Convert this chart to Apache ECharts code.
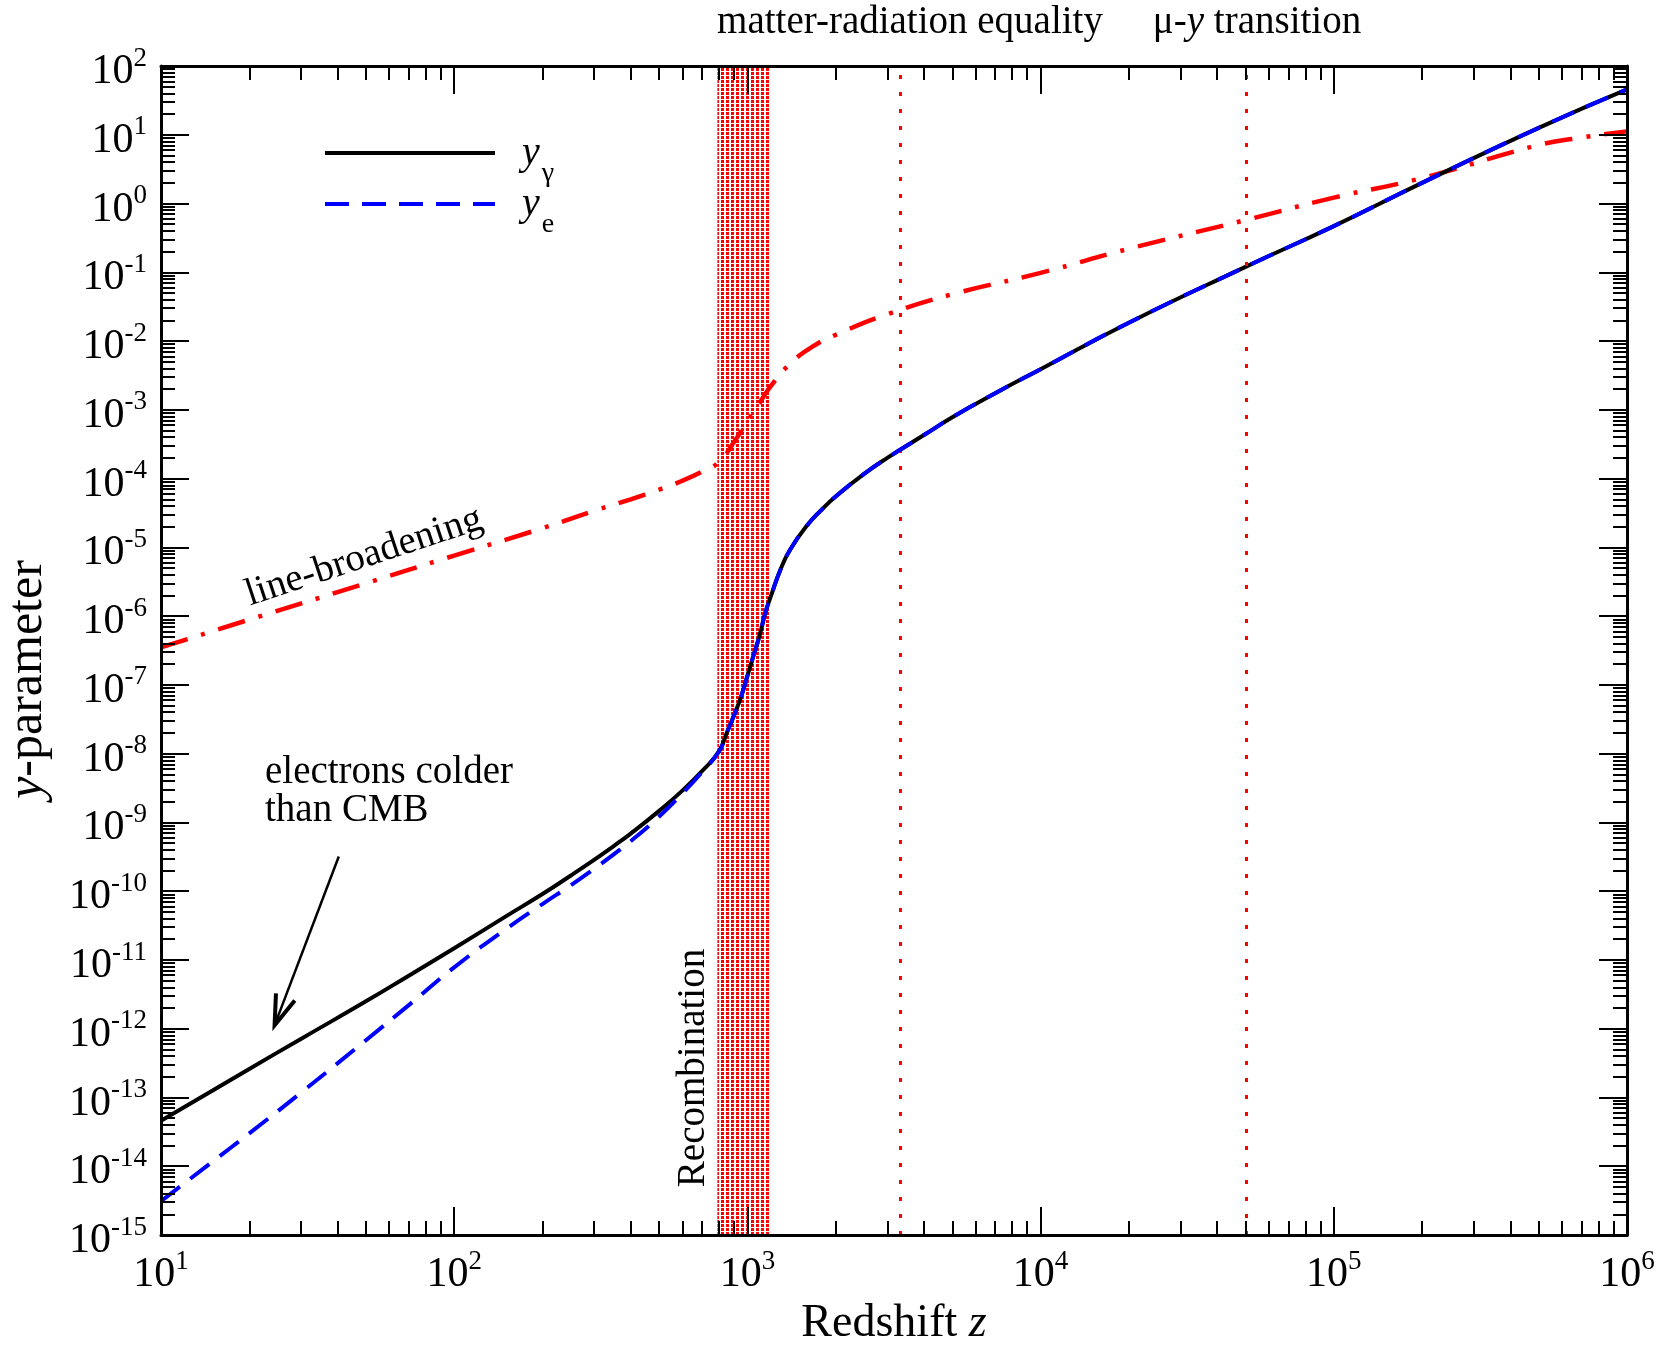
<!DOCTYPE html>
<html>
<head>
<meta charset="utf-8">
<script src="https://cdn.jsdelivr.net/npm/echarts@6.0.0/dist/echarts.min.js"></script>
<style>
  html, body { margin: 0; padding: 0; background: #fff; }
  #chart { width: 1662px; height: 1351px; }
</style>
</head>
<body>
<div id="chart"></div>
<script>
// redshift grid shared by y_gamma and y_e
const redshift = [10, 15, 20, 30, 50, 70, 100, 150, 200, 250, 300, 350, 400, 500, 600, 700, 800, 850, 900, 950,
  1000, 1050, 1100, 1150, 1200, 1300, 1400, 1600, 1800, 2000, 2500, 3000, 4000, 5000, 7000,
  1e4, 2e4, 5e4, 1e5, 2e5, 5e5, 1e6];
const yGamma = [4.6e-14, 1.26e-13, 2.6e-13, 7.1e-13, 2.5e-12, 5.9e-12, 1.48e-11, 4.3e-11, 9.1e-11, 1.69e-10, 2.85e-10,
  4.53e-10, 6.87e-10, 1.47e-9, 2.9e-9, 5.55e-9, 1.08e-8, 2.0e-8, 3.6e-8, 6.6e-8,
  1.35e-7, 2.7e-7, 5.2e-7, 1.1e-6, 1.9e-6, 4.9e-6, 9.3e-6, 2.1e-5, 3.6e-5, 5.5e-5, 1.17e-4, 2.0e-4, 4.3e-4, 7.8e-4, 1.74e-3,
  3.9e-3, 1.85e-2, 0.12, 0.47, 2.0, 12.6, 45.7];
const yElectron = [3.1e-15, 1.17e-14, 3.0e-14, 1.17e-13, 6.8e-13, 2.2e-12, 7.8e-12, 2.8e-11, 6.5e-11, 1.22e-10, 2.11e-10,
  3.44e-10, 5.33e-10, 1.22e-9, 2.65e-9, 5.4e-9, 1.08e-8, 2.0e-8, 3.6e-8, 6.6e-8,
  1.35e-7, 2.7e-7, 5.2e-7, 1.1e-6, 1.9e-6, 4.9e-6, 9.3e-6, 2.1e-5, 3.6e-5, 5.5e-5, 1.17e-4, 2.0e-4, 4.3e-4, 7.8e-4, 1.74e-3,
  3.9e-3, 1.85e-2, 0.12, 0.47, 2.0, 12.6, 45.7];

// line-broadening curve
const redshiftLB = [10, 20, 50, 100, 200, 300, 400, 500, 600, 700, 800, 900, 1000, 1100, 1200, 1400, 1700, 2000,
  3000, 5000, 1e4, 2e4, 5e4, 1e5, 2e5, 5e5, 7e5, 1e6];
const yLineBroadening = [3.5e-7, 8.9e-7, 3.0e-6, 7.6e-6, 1.9e-5, 3.4e-5, 5.0e-5, 6.9e-5, 9.3e-5, 1.26e-4, 1.74e-4,
  3.4e-4, 6.8e-4, 1.26e-3, 2.2e-3, 4.7e-3, 8.7e-3, 1.23e-2, 2.45e-2, 4.8e-2, 9.8e-2, 0.22, 0.575, 1.22, 2.35, 7.1, 9.1, 11.2];

// epochs
const recombination = [790, 1190];
const epochLines = [3300, 5e4]; // matter-radiation equality, mu-y transition

// arrow "electrons colder than CMB"
const arrowTail = [40.4, 3.2e-10];
const arrowTip = [24.4, 1.12e-12];

// axes (decade exponents)
const xRange = [1, 6];
const yRange = [-15, 2];
const tickMantissas = [2, 3, 4, 5, 6, 7, 8, 9];

const FONT = '"Liberation Serif", "Times New Roman", serif';

function toLog(xs, ys) {
  return xs.map((x, i) => [Math.log10(x), Math.log10(ys[i])]);
}

function minorTicks(range) {
  const out = [];
  for (let e = range[0]; e < range[1]; e++) {
    tickMantissas.forEach((m) => out.push(e + Math.log10(m)));
  }
  return out;
}

const labelRich = {
  b: { fontFamily: FONT, fontSize: 42, lineHeight: 42, padding: [12, 0, 0, 0], color: "#000" },
  s: { fontFamily: FONT, fontSize: 27, lineHeight: 24, verticalAlign: "top", color: "#000" },
};

function powLabel(v) {
  return "{b|10}{s|" + Math.round(v) + "}";
}

const axisLineStyle = { color: "#000", width: 3 };
const tickStyle = { color: "#000", width: 2 };

function makeAxis(pos, range, major, withLabels) {
  const ax = {
    type: "value",
    position: pos,
    min: range[0],
    max: range[1],
    interval: 1,
    z: 10,
    axisLine: { show: major, onZero: false, lineStyle: axisLineStyle },
    axisTick: { inside: true, length: major ? 28 : 14, lineStyle: tickStyle },
    axisLabel: { show: false },
    splitLine: { show: false },
  };
  if (!major) ax.axisTick.customValues = minorTicks(range);
  if (withLabels) {
    ax.axisLabel = {
      show: true,
      margin: pos === "bottom" ? 13 : 14,
      formatter: powLabel,
      rich: labelRich,
      showMinLabel: true,
      showMaxLabel: true,
    };
  }
  return ax;
}

const xMain = makeAxis("bottom", xRange, true, true);
xMain.name = "{n|Redshift }{i|z}";
xMain.nameLocation = "middle";
xMain.nameGap = 66;
xMain.nameMoveOverlap = false;
xMain.nameTextStyle = {
  rich: {
    n: { fontFamily: FONT, fontSize: 46, color: "#000" },
    i: { fontFamily: FONT, fontSize: 46, fontStyle: "italic", color: "#000" },
  },
};

const yMain = makeAxis("left", yRange, true, true);
yMain.name = "{i|y}{n|-parameter}";
yMain.nameLocation = "middle";
yMain.nameRotate = 90;
yMain.nameGap = 108;
yMain.nameMoveOverlap = false;
yMain.nameTextStyle = {
  padding: [0, 58, 0, 0],
  rich: {
    n: { fontFamily: FONT, fontSize: 50, color: "#000" },
    i: { fontFamily: FONT, fontSize: 50, fontStyle: "italic", color: "#000" },
  },
};

// dotted hatch used for the recombination band
const hatch = document.createElement("canvas");
hatch.width = 5;
hatch.height = 4;
const hctx = hatch.getContext("2d");
hctx.fillStyle = "#ff0000";
hctx.fillRect(1, 0, 3, 3);

const chart = echarts.init(document.getElementById("chart"), null, { renderer: "canvas" });

const annotations = [
  {
    id: "t-equality", type: "text", x: 910, y: 23, z: 20,
    style: { text: "matter-radiation equality", fontFamily: FONT, fontSize: 39, fill: "#000", align: "center", verticalAlign: "middle" },
  },
  {
    id: "t-muy", type: "text", x: 1257, y: 23, z: 20,
    style: {
      text: "{n|μ-}{i|y}{n| transition}", align: "center", verticalAlign: "middle",
      rich: {
        n: { fontFamily: FONT, fontSize: 39, fill: "#000" },
        i: { fontFamily: FONT, fontSize: 39, fontStyle: "italic", fill: "#000" },
      },
    },
  },
  {
    id: "t-recomb", type: "text", x: 694, y: 1068, rotation: Math.PI / 2, z: 20,
    style: { text: "Recombination", fontFamily: FONT, fontSize: 39, fill: "#000", align: "center", verticalAlign: "middle" },
  },
  {
    id: "t-lb", type: "text", x: 364, y: 557, rotation: 0.32, z: 20,
    style: { text: "line-broadening", fontFamily: FONT, fontSize: 39, fill: "#000", align: "center", verticalAlign: "middle" },
  },
  {
    id: "t-cold", type: "text", x: 265, y: 792, z: 20,
    style: { text: "electrons colder\nthan CMB", fontFamily: FONT, fontSize: 39, lineHeight: 38, fill: "#000", align: "left", verticalAlign: "middle" },
  },
];

const option = {
  animation: false,
  backgroundColor: "#fff",
  textStyle: { fontFamily: FONT, color: "#000" },
  grid: { left: 161, top: 66, width: 1466, height: 1169, outerBoundsMode: "none" },
  legend: {
    data: ["y_γ", "y_e"],
    orient: "vertical",
    left: 318,
    top: 128,
    itemWidth: 170,
    itemHeight: 2,
    itemGap: -4,
    selectedMode: false,
    lineStyle: { width: 4 },
    formatter: (name) => (name === "y_γ" ? "{i|y}{s|γ}" : "{i|y}{s|e}"),
    textStyle: {
      rich: {
        i: { fontFamily: FONT, fontSize: 40, lineHeight: 40, fontStyle: "italic", verticalAlign: "top", padding: [0, 0, 0, 22], color: "#000" },
        s: { fontFamily: FONT, fontSize: 28, lineHeight: 28, verticalAlign: "top", padding: [27, 0, 0, 2], color: "#000" },
      },
    },
  },
  xAxis: [xMain, makeAxis("bottom", xRange, false, false), makeAxis("top", xRange, true, false), makeAxis("top", xRange, false, false)],
  yAxis: [yMain, makeAxis("left", yRange, false, false), makeAxis("right", yRange, true, false), makeAxis("right", yRange, false, false)],
  series: [
    {
      name: "epochs",
      type: "line",
      data: [],
      silent: true,
      z: 1,
      markArea: {
        silent: true,
        itemStyle: { color: { image: hatch, repeat: "repeat" }, opacity: 1 },
        data: [[{ xAxis: Math.log10(recombination[0]) }, { xAxis: Math.log10(recombination[1]) }]],
      },
      markLine: {
        silent: true,
        symbol: ["none", "none"],
        label: { show: false },
        lineStyle: { color: "#ff0000", width: 3, type: [4, 13] },
        data: epochLines.map((z) => ({ xAxis: Math.log10(z) })),
      },
    },
    {
      name: "line-broadening",
      type: "line",
      data: toLog(redshiftLB, yLineBroadening),
      showSymbol: false,
      symbol: "none",
      smooth: 0.5,
      z: 3,
      lineStyle: { color: "#ff0000", width: 4.5, type: [28, 14, 4, 14] },
    },
    {
      name: "y_γ",
      type: "line",
      data: toLog(redshift, yGamma),
      showSymbol: false,
      symbol: "none",
      smooth: 0.5,
      z: 4,
      itemStyle: { color: "#000" },
      lineStyle: { color: "#000", width: 4 },
    },
    {
      name: "y_e",
      type: "line",
      data: toLog(redshift, yElectron),
      showSymbol: false,
      symbol: "none",
      smooth: 0.5,
      z: 5,
      itemStyle: { color: "#0000ff" },
      lineStyle: { color: "#0000ff", width: 4, type: [24, 13] },
    },
  ],
  graphic: { elements: annotations },
};

chart.setOption(option);

// arrow pointing at the gap between y_gamma and y_e
const pTail = chart.convertToPixel({ xAxisIndex: 0, yAxisIndex: 0 }, [Math.log10(arrowTail[0]), Math.log10(arrowTail[1])]);
const pTip = chart.convertToPixel({ xAxisIndex: 0, yAxisIndex: 0 }, [Math.log10(arrowTip[0]), Math.log10(arrowTip[1])]);
const ang = Math.atan2(pTail[1] - pTip[1], pTail[0] - pTip[0]);
const headLen = 32;
const spread = 0.32;
const arm1 = [pTip[0] + headLen * Math.cos(ang + spread), pTip[1] + headLen * Math.sin(ang + spread)];
const arm2 = [pTip[0] + headLen * Math.cos(ang - spread), pTip[1] + headLen * Math.sin(ang - spread)];

chart.setOption({
  graphic: {
    elements: [
      {
        id: "arrow-shaft", type: "line", z: 20,
        shape: { x1: pTail[0], y1: pTail[1], x2: pTip[0], y2: pTip[1] },
        style: { stroke: "#000", lineWidth: 2.5 },
      },
      {
        id: "arrow-head", type: "polyline", z: 20,
        shape: { points: [arm1, pTip, arm2] },
        style: { stroke: "#000", lineWidth: 4, fill: null },
      },
    ],
  },
});

window.addEventListener("resize", chart.resize);
</script>
</body>
</html>
